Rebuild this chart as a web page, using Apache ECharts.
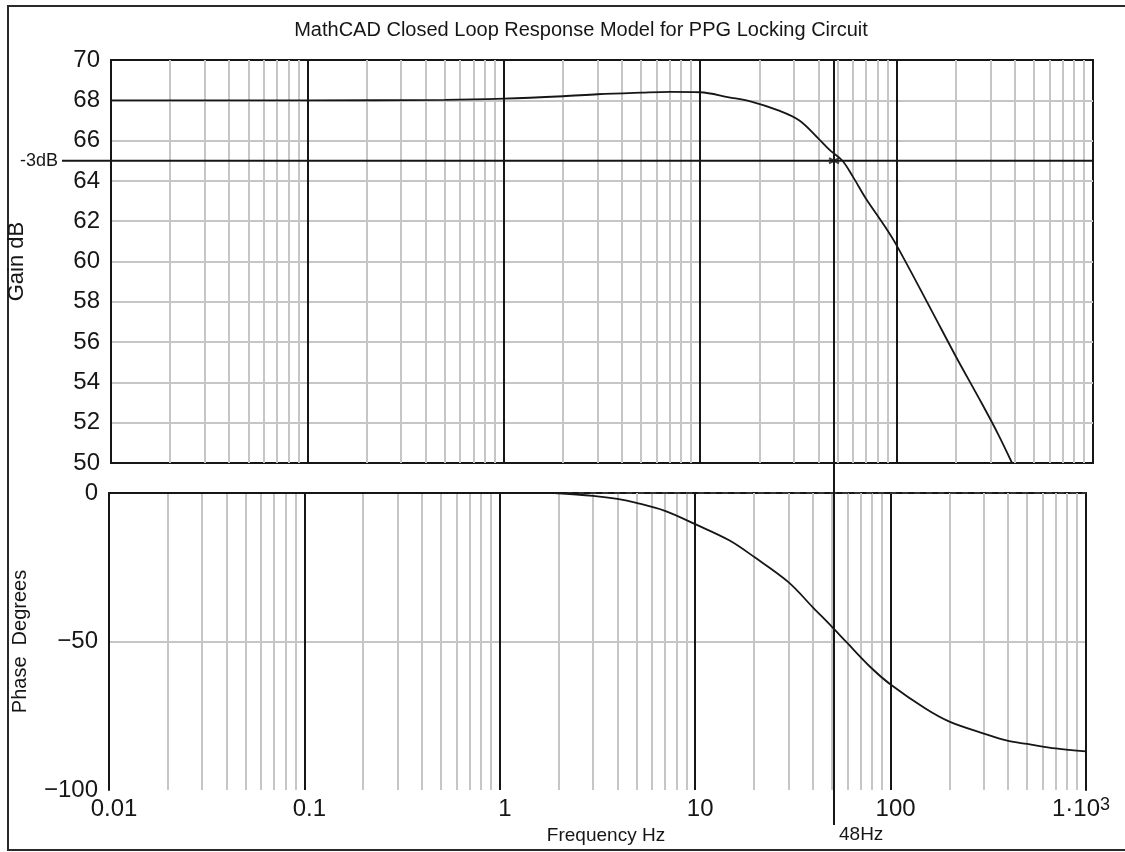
<!DOCTYPE html>
<html>
<head>
<meta charset="utf-8">
<title>MathCAD Closed Loop Response Model for PPG Locking Circuit</title>
<script src="https://cdn.jsdelivr.net/npm/echarts@6/dist/echarts.min.js"></script>
<style>
  html, body { margin: 0; padding: 0; background: #fff; }
  #chart { width: 1125px; height: 852px; }
</style>
</head>
<body>
<div id="chart"></div>
<script>
// Closed loop gain (dB) against frequency (Hz)
const gainFreq = [0.01, 0.1, 0.5, 1, 2, 3, 5, 7, 10, 14, 18, 25, 32, 40, 46, 53, 60, 70, 85, 100, 150, 200, 270, 330, 387];
const gainDb   = [68, 68, 68.02, 68.08, 68.2, 68.3, 68.38, 68.42, 68.4, 68.15, 67.95, 67.5, 67.0, 66.1, 65.5, 65.0, 64.2, 63.1, 61.9, 60.8, 57.6, 55.3, 53.0, 51.4, 50.0];

// Closed loop phase (degrees) against frequency (Hz)
const phaseFreq = [1.9, 3, 4, 5, 7, 10, 15, 20, 30, 40, 50, 60, 80, 100, 150, 200, 300, 400, 500, 700, 1000];
const phaseDeg  = [0, -1, -2, -3.3, -6, -10.5, -16, -21.5, -30, -38.5, -45, -50.5, -59, -64.5, -72.5, -77, -81, -83.5, -84.5, -86, -87];

// -3 dB cut-off marker
const cutoffDb = 65;
const cutoffFreq = 48;
const cutoffText = '48Hz';
const cutoffLabel = '-3dB';

// Frequency axis tick labels, one per decade 0.01 … 1000
const freqTickLabels = ['{m|0.01}', '{m|0.1}', '{m|1}', '{m|10}', '{m|100}', '{m|1·10}{sup|3}'];

const titleText = 'MathCAD Closed Loop Response Model for PPG Locking Circuit';
const gainAxisName = 'Gain dB';
const phaseAxisName = 'Phase  Degrees';
const freqAxisName = 'Frequency Hz';

const FONT = '"Liberation Sans", Arial, sans-serif';
const INK = '#161616';
const GRID_GRAY = '#c6c6c6';

// Decade and in-decade (2…9) grid positions on the log frequency axis
const decadeLines = [0.1, 1, 10, 100];
const minorLines = [];
for (let e = -2; e < 3; e++) {
  for (let k = 2; k <= 9; k++) minorLines.push(+(k * Math.pow(10, e)).toPrecision(6));
}

function gridLineSeries(gridIdx, values, color, z) {
  return {
    type: 'line',
    xAxisIndex: gridIdx,
    yAxisIndex: gridIdx,
    data: [],
    silent: true,
    markLine: {
      silent: true,
      z: z,
      symbol: 'none',
      animation: false,
      label: { show: false },
      emphasis: { disabled: true },
      lineStyle: { color: color, width: 2, type: 'solid' },
      data: values.map(v => ({ xAxis: v }))
    }
  };
}

const zip = (a, b) => a.map((v, i) => [v, b[i]]);

const yLabelStyle = {
  fontFamily: FONT, fontSize: 24, color: INK, margin: 11,
  formatter: v => String(v).replace('-', '\u2212')
};

const option = {
  animation: false,
  backgroundColor: '#fff',
  grid: [
    { left: 111, top: 60, width: 982, height: 403, show: true, borderColor: INK, borderWidth: 2,
      backgroundColor: 'transparent', containLabel: false, outerBoundsMode: 'none' },
    { left: 109, top: 493, width: 977, height: 297, show: false, containLabel: false, outerBoundsMode: 'none' }
  ],
  xAxis: [
    { type: 'log', logBase: 10, gridIndex: 0, min: 0.01, max: 1000, splitNumber: 5,
      axisLine: { show: true, lineStyle: { color: INK, width: 2 } },
      axisTick: { show: false }, axisLabel: { show: false }, splitLine: { show: false } },
    { type: 'log', logBase: 10, gridIndex: 1, min: 0.01, max: 1000, splitNumber: 5,
      axisLine: { show: true, lineStyle: { color: INK, width: 2 } },
      axisTick: { show: false }, splitLine: { show: false },
      axisLabel: {
        show: true, showMinLabel: true, showMaxLabel: true, margin: 6,
        padding: [0, 0, 0, 10],
        formatter: v => freqTickLabels[Math.round(Math.log10(v)) + 2] || '',
        rich: {
          m: { fontFamily: FONT, fontSize: 24, lineHeight: 26, color: INK },
          sup: { fontFamily: FONT, fontSize: 18, lineHeight: 1, verticalAlign: 'top', color: INK, padding: [0, 20, 0, 0] }
        }
      } }
  ],
  yAxis: [
    { type: 'value', gridIndex: 0, min: 50, max: 70, interval: 2, z: 0,
      axisLine: { show: true, lineStyle: { color: INK, width: 2 } },
      axisTick: { show: false }, axisLabel: yLabelStyle,
      splitLine: { show: true, showMinLine: false, showMaxLine: false, lineStyle: { color: GRID_GRAY, width: 2 } } },
    { type: 'value', gridIndex: 1, min: -100, max: 0, interval: 50, z: 0,
      axisLine: { show: true, lineStyle: { color: INK, width: 2 } },
      axisTick: { show: false }, axisLabel: yLabelStyle,
      splitLine: { show: true, showMinLine: false, showMaxLine: false, lineStyle: { color: GRID_GRAY, width: 2 } } },
    { type: 'value', gridIndex: 1, position: 'right', min: -100, max: 0,
      axisLine: { show: true, lineStyle: { color: INK, width: 2 } },
      axisTick: { show: false }, axisLabel: { show: false }, splitLine: { show: false } }
  ],
  series: [
    gridLineSeries(0, minorLines, GRID_GRAY, 1),
    gridLineSeries(0, decadeLines, INK, 2),
    gridLineSeries(1, minorLines, GRID_GRAY, 1),
    gridLineSeries(1, decadeLines, INK, 2),
    {
      name: 'Gain', type: 'line', xAxisIndex: 0, yAxisIndex: 0, z: 4,
      data: zip(gainFreq, gainDb), showSymbol: false, silent: true, smooth: 0.35,
      lineStyle: { color: INK, width: 1.8 }
    },
    {
      name: 'Cut-off', type: 'scatter', xAxisIndex: 0, yAxisIndex: 0, z: 6,
      data: [[cutoffFreq, cutoffDb]], silent: true,
      symbol: 'path://M5,0 L5,10 M0,2.5 L10,7.5 M10,2.5 L0,7.5', symbolSize: 10,
      itemStyle: { color: 'transparent', borderColor: INK, borderWidth: 2 }
    },
    {
      name: 'Phase', type: 'line', xAxisIndex: 1, yAxisIndex: 1, z: 4,
      data: zip(phaseFreq, phaseDeg), showSymbol: false, silent: true, clip: false, smooth: 0.35,
      lineStyle: { color: INK, width: 1.8 }
    },
    {
      name: 'Phase frame', type: 'line', xAxisIndex: 1, yAxisIndex: 1, z: 3,
      data: [[0.01, 0], [phaseFreq[0], 0]], showSymbol: false, silent: true, clip: false,
      lineStyle: { color: INK, width: 2 }
    },
    {
      name: 'Phase zero', type: 'line', xAxisIndex: 1, yAxisIndex: 1, z: 3,
      data: [[phaseFreq[0], 0], [1000, 0]], showSymbol: false, silent: true, clip: false,
      lineStyle: { color: '#333', width: 2, type: [6, 6] }
    }
  ]
};

const chart = echarts.init(document.getElementById('chart'), null, { renderer: 'canvas' });
chart.setOption(option);

// Annotations placed through the chart's own scales
const toPx = (gridIndex, x, y) => chart.convertToPixel({ gridIndex: gridIndex }, [x, y]);
const [markX, gainTop] = toPx(0, cutoffFreq, 70);
const [gainRight, cutY] = toPx(0, 1000, cutoffDb);
const phaseBottom = toPx(1, cutoffFreq, -100)[1];
const phaseTop = toPx(1, cutoffFreq, 0)[1];
const phaseMidY = (phaseTop + phaseBottom) / 2;
const gainMidY = (gainTop + toPx(0, cutoffFreq, 50)[1]) / 2;

const txt = (x, y, text, size, extra) => Object.assign({
  type: 'text', x: x, y: y, silent: true, z: 10,
  style: { text: text, font: size + 'px ' + FONT, fill: INK, align: 'center', verticalAlign: 'middle' }
}, extra || {});

chart.setOption({
  graphic: [
    // outer frame
    { type: 'polyline', silent: true, z: 10,
      shape: { points: [[1130, 6], [8, 6], [8, 850], [1130, 850]] },
      style: { stroke: '#2a2a2a', lineWidth: 2, fill: null } },
    txt(581, 30, titleText, 20),
    txt(17, gainMidY, gainAxisName, 22, { rotation: Math.PI / 2 }),
    txt(20, phaseMidY, phaseAxisName, 20, { rotation: Math.PI / 2 }),
    txt(606, 836, freqAxisName, 19),
    // -3 dB level
    txt(39, cutY, cutoffLabel, 18),
    { type: 'line', silent: true, z: 9,
      shape: { x1: 62, y1: cutY, x2: gainRight, y2: cutY },
      style: { stroke: INK, lineWidth: 2 } },
    // cut-off frequency marker
    { type: 'line', silent: true, z: 9,
      shape: { x1: markX, y1: gainTop, x2: markX, y2: phaseBottom + 35 },
      style: { stroke: INK, lineWidth: 2 } },
    txt(markX + 5, phaseBottom + 45, cutoffText, 19, { style: { text: cutoffText, font: '19px ' + FONT, fill: INK, align: 'left', verticalAlign: 'middle' } })
  ]
});
</script>
</body>
</html>
